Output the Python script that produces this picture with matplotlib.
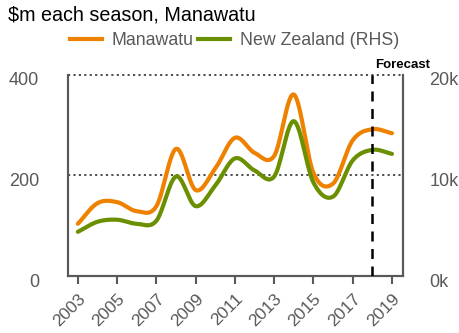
import numpy as np
import matplotlib.pyplot as plt
from matplotlib.lines import Line2D
from matplotlib.transforms import ScaledTranslation

plt.rcParams['font.family'] = ['Liberation Sans', 'DejaVu Sans']

years = list(range(2003, 2020))
manawatu = [104, 145, 147, 129, 139, 253, 171, 214, 275, 245, 239, 361, 205, 184, 270, 292, 284]
new_zealand = [4400, 5400, 5600, 5200, 5500, 9900, 6950, 9000, 11700, 10500, 9900, 15400,
               9300, 7900, 11500, 12550, 12150]
forecast_year = 2018
xtick_years = list(range(2003, 2020, 2))

orange = '#EE8100'
green = '#6A8F00'
grey = '#595959'


# Catmull-Rom smoothing, like the smoothed lines in a spreadsheet chart
def smooth(x, y, n=30):
    x = np.asarray(x, float)
    y = np.asarray(y, float)
    px = np.concatenate([[2 * x[0] - x[1]], x, [2 * x[-1] - x[-2]]])
    py = np.concatenate([[2 * y[0] - y[1]], y, [2 * y[-1] - y[-2]]])
    xs, ys = [], []
    for i in range(1, len(px) - 2):
        t = np.linspace(0, 1, n, endpoint=False)
        h00 = 2 * t**3 - 3 * t**2 + 1
        h10 = t**3 - 2 * t**2 + t
        h01 = -2 * t**3 + 3 * t**2
        h11 = t**3 - t**2
        m0 = (py[i + 1] - py[i - 1]) / 2
        m1 = (py[i + 2] - py[i]) / 2
        xs.append(px[i] + t * (px[i + 1] - px[i]))
        ys.append(h00 * py[i] + h10 * m0 + h01 * py[i + 1] + h11 * m1)
    xs.append([x[-1]])
    ys.append([y[-1]])
    return np.concatenate(xs), np.concatenate(ys)


fig = plt.figure(figsize=(4.6, 3.33), dpi=100)
ax = fig.add_axes([0.148, 0.171, 0.728, 0.604])
ax2 = ax.twinx()

sx, sy = smooth(years, new_zealand)
ax2.plot(sx, sy, color=green, lw=3, solid_capstyle='round', zorder=3)
sx, sy = smooth(years, manawatu)
ax.plot(sx, sy, color=orange, lw=3, solid_capstyle='round', zorder=3)

ax.set_xlim(2002.5, 2019.56)
ax.set_ylim(0, 400)
ax2.set_ylim(0, 20000)

# dotted gridlines
for v in [0, 200, 400]:
    ax.axhline(v, color='#404040', lw=1.3, ls=(0, (1.2, 1.8)), zorder=1, clip_on=False)

ax2.axvline(forecast_year, color='black', lw=1.8, ls=(0, (4, 3)), zorder=4)
ax2.text(forecast_year + 0.15, 20350, 'Forecast', fontsize=9.5, fontweight='bold',
         ha='left', va='bottom')

ax.set_yticks([0, 200, 400])
ax2.set_yticks([0, 10000, 20000])
ax2.set_yticklabels(['0k', '10k', '20k'])
ax.set_xticks(xtick_years)
ax.set_xticklabels([str(y) for y in xtick_years], rotation=45, ha='right',
                   rotation_mode='anchor')

ax.tick_params(axis='y', length=0, pad=21, labelsize=13, labelcolor=grey)
ax2.tick_params(axis='y', length=0, pad=19, labelsize=13, labelcolor=grey)
ax.tick_params(axis='x', length=6, width=1.5, color=grey, labelsize=12.5, labelcolor=grey, pad=5)

# y labels sit a little below their gridlines
shift = ScaledTranslation(0, -4 / 100, fig.dpi_scale_trans)
for lab in ax.get_yticklabels() + ax2.get_yticklabels():
    lab.set_transform(lab.get_transform() + shift)

for a in (ax, ax2):
    a.spines['top'].set_visible(False)
    for s in ['left', 'right', 'bottom']:
        a.spines[s].set_color(grey)
        a.spines[s].set_linewidth(1.5)

fig.text(0.017, 0.955, '$m each season, Manawatu', fontsize=14.2, ha='left', va='center')

handles = [Line2D([], [], color=orange, lw=3), Line2D([], [], color=green, lw=3)]
fig.legend(handles, ['Manawatu', 'New Zealand (RHS)'], loc='center', bbox_to_anchor=(0.51, 0.877),
           ncol=2, frameon=False, fontsize=12.8, handlelength=1.75, handletextpad=0.56,
           columnspacing=0.28, labelcolor=grey)

fig.savefig('out.png', dpi=100)
